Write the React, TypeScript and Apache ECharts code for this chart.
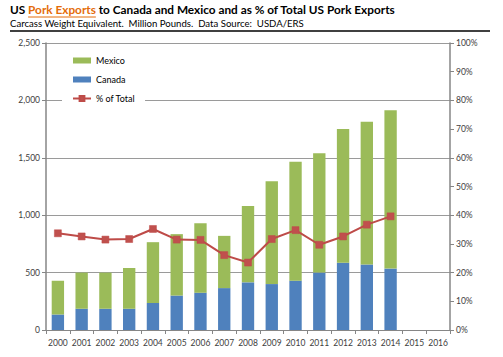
import React, { useEffect, useRef } from "react";
import * as echarts from "echarts";

const years = ["2000","2001","2002","2003","2004","2005","2006","2007","2008","2009","2010","2011","2012","2013","2014","2015","2016"];
const canada = [135, 185, 185, 185, 235, 300, 325, 365, 415, 400, 430, 500, 585, 570, 535, null, null];
const mexico = [295, 315, 315, 355, 530, 535, 605, 455, 665, 895, 1035, 1040, 1165, 1245, 1380, null, null];
const pctTotal = [33.7, 32.6, 31.5, 31.7, 35.2, 31.5, 31.4, 26.1, 23.5, 31.7, 34.8, 29.7, 32.6, 36.7, 39.6, null, null];

const titleParts = ["US ", "Pork Exports", " to Canada and Mexico and as % of Total US Pork Exports"];
const subtitle = "Carcass Weight Equivalent.  Million Pounds.  Data Source:  USDA/ERS";

const FONT = "Lato, 'Noto Sans', sans-serif";

function measure(text: string, font: string): number {
  const c = document.createElement("canvas");
  const ctx = c.getContext("2d");
  if (!ctx) return text.length * 6;
  ctx.font = font;
  return ctx.measureText(text).width;
}

export default function App() {
  const ref = useRef<HTMLDivElement>(null);
  useEffect(() => {
    if (!ref.current) return;
    const chart = echarts.init(ref.current, null, { renderer: "svg" });
    const tFont = "bold 11.8px Lato";
    const w0 = measure(titleParts[0], tFont);
    const w1 = measure(titleParts[1], tFont);
    const tx = 10;
    const ty = 10;
    const axisColor = "#868686";
    const labelColor = "#404040";
    chart.setOption({
      animation: false,
      backgroundColor: "#fff",
      graphic: [
        { type: "text", left: tx, top: ty - 7, style: { text: titleParts[0], font: tFont, fill: "#000" } },
        { type: "text", left: tx + w0, top: ty - 7, style: { text: titleParts[1], font: tFont, fill: "#E46C0A" } },
        { type: "line", shape: { x1: tx + w0, y1: ty + 7, x2: tx + w0 + w1, y2: ty + 7 }, style: { stroke: "#E46C0A", lineWidth: 1 } },
        { type: "text", left: tx + w0 + w1, top: ty - 7, style: { text: titleParts[2], font: tFont, fill: "#000" } },
        { type: "text", left: 10, top: 18, style: { text: subtitle, font: "9.6px Lato", fill: "#000" } },
        { type: "line", shape: { x1: 10, y1: 31, x2: 490, y2: 31 }, style: { stroke: "#000", lineWidth: 1.5 } },
      ],
      legend: {
        orient: "vertical",
        left: 62,
        top: 52,
        itemGap: 10,
        itemWidth: 18,
        itemHeight: 6,
        backgroundColor: "#fff",
        padding: [4, 10, 2, 10],
        textStyle: { fontFamily: FONT, fontSize: 9, color: "#000" },
        data: [
          { name: "Mexico", icon: "rect" },
          { name: "Canada", icon: "rect" },
          { name: "% of Total" },
        ],
      },
      grid: { left: 46, right: 53, top: 43, bottom: 27, containLabel: false },
      xAxis: {
        type: "category",
        data: years,
        boundaryGap: true,
        axisLine: { lineStyle: { color: axisColor, width: 1 } },
        axisTick: { show: true, length: 4, lineStyle: { color: axisColor } },
        axisLabel: { fontFamily: FONT, fontSize: 8.5, color: labelColor, margin: 8, interval: 0 },
      },
      yAxis: [
        {
          type: "value",
          min: 0,
          max: 2500,
          interval: 500,
          axisLine: { show: true, lineStyle: { color: axisColor, width: 1.5 } },
          axisTick: { show: true, length: 4, lineStyle: { color: axisColor } },
          splitLine: { show: true, lineStyle: { color: "#9a9a9a", width: 1 } },
          axisLabel: {
            fontFamily: FONT,
            fontSize: 8.5,
            color: labelColor,
            margin: 6,
            formatter: (v: number) => v.toLocaleString("en-US"),
          },
        },
        {
          type: "value",
          min: 0,
          max: 100,
          interval: 10,
          position: "right",
          axisLine: { show: true, lineStyle: { color: axisColor, width: 1.5 } },
          axisTick: { show: true, length: 4, lineStyle: { color: axisColor } },
          splitLine: { show: false },
          axisLabel: { fontFamily: FONT, fontSize: 8.5, color: labelColor, margin: 6, formatter: "{value}%" },
        },
      ],
      series: [
        {
          name: "Canada",
          type: "bar",
          stack: "total",
          data: canada,
          barWidth: "52%",
          itemStyle: { color: "#4F81BD" },
        },
        {
          name: "Mexico",
          type: "bar",
          stack: "total",
          data: mexico,
          barWidth: "52%",
          itemStyle: { color: "#9BBB59" },
        },
        {
          name: "% of Total",
          type: "line",
          yAxisIndex: 1,
          data: pctTotal,
          symbol: "rect",
          symbolSize: 7,
          lineStyle: { color: "#BE4B48", width: 2 },
          itemStyle: { color: "#C0504D", borderColor: "#BE4B48", borderWidth: 0.5 },
          z: 5,
        },
      ],
    });
    return () => chart.dispose();
  }, []);
  return <div ref={ref} style={{ width: 503, height: 357, position: "absolute", left: 0, top: 0 }} />;
}
